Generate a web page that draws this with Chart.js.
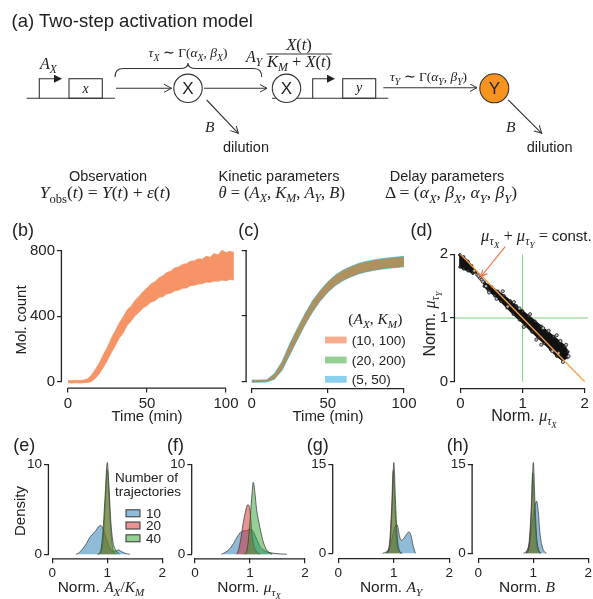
<!DOCTYPE html>
<html>
<head>
<meta charset="utf-8">
<script src="https://cdn.jsdelivr.net/npm/chart.js@4.4.1/dist/chart.umd.min.js"></script>
<style>
  html, body { margin: 0; padding: 0; background: #fff; overflow: hidden; }
  body { width: 593px; height: 599px; position: relative; font-family: "Liberation Sans", Arial, sans-serif; }
  canvas { position: absolute; }
  #overlay { position: absolute; left: 0; top: 0; z-index: 2; pointer-events: none; }
</style>
</head>
<body>
<svg id="overlay" width="593" height="599"></svg>
<script>
// ---- data ----
// (b) envelope of the 100 simulated trajectories, (A_X, K_M) = (10, 100)
const tB = [0, 2.5, 5, 7.5, 10, 12.5, 15, 17.5, 20, 22.5, 25, 27.5, 30, 32.5, 35, 37.5, 40, 42.5, 45, 47.5, 50,
  52.5, 55, 57.5, 60, 62.5, 65, 67.5, 70, 72.5, 75, 77.5, 80, 82.5, 85, 87.5, 90, 92.5, 95, 97.5, 100, 102.5, 105];
const bLower = [-6, -8, -7, -8, -6, -5, 2, 22, 52, 90, 132, 180, 222, 268, 300, 345, 372, 405, 425, 452, 466,
  488, 495, 515, 520, 538, 542, 556, 560, 572, 574, 588, 590, 598, 600, 610, 608, 616, 615, 622, 618, 626, 622];
const bUpper = [7, 6, 8, 7, 10, 18, 42, 78, 118, 168, 212, 268, 312, 360, 398, 440, 462, 498, 522, 552, 572,
  598, 612, 635, 648, 668, 676, 696, 702, 718, 722, 738, 740, 752, 750, 768, 762, 785, 775, 805, 790, 798, 792];

// (c) envelopes for the three parameter pairs
const tC = [0, 5, 10, 15, 20, 25, 30, 35, 40, 45, 50, 55, 60, 65, 70, 75, 80, 85, 90, 95, 100];
const cOrangeLow = [-6, -6, -4, 15, 72, 165, 258, 348, 428, 495, 548, 590, 620, 642, 660, 673, 682, 690, 695, 700, 704];
const cOrangeHigh = [6, 6, 8, 45, 118, 225, 322, 412, 492, 555, 608, 650, 680, 702, 720, 733, 742, 750, 755, 760, 765];
const cGreenLow = [-6, -5, -4, 13, 70, 162, 256, 346, 426, 494, 547, 589, 619, 641, 659, 672, 681, 689, 694, 699, 703];
const cGreenHigh = [6, 6, 8, 47, 120, 228, 324, 414, 494, 556, 609, 651, 681, 703, 721, 734, 743, 751, 756, 761, 766];
const cBlueLow = [-7, -6, -5, 12, 68, 160, 254, 345, 425, 492, 546, 588, 618, 640, 658, 671, 680, 688, 694, 699, 703];
const cBlueHigh = [7, 7, 9, 48, 122, 230, 326, 416, 496, 558, 611, 653, 683, 705, 723, 736, 745, 753, 758, 763, 768];
const cLegend = ["(10, 100)", "(20, 200)", "(5, 50)"];

// (d) posterior samples: outline of the dense cloud + sparse points
const dBlob = [[-0.01, 1.99], [0.05, 1.96], [0.12, 1.89], [0.18, 1.82], [0.24, 1.72], [0.2, 1.7], [0.12, 1.74],
  [0.05, 1.77], [-0.01, 1.8], [-0.01, 1.99]];
const dCloud = [[0.38, 1.56], [0.5, 1.49], [0.6, 1.42], [0.7, 1.35], [0.8, 1.27], [0.9, 1.19], [1.0, 1.11],
  [1.1, 1.03], [1.2, 0.95], [1.3, 0.87], [1.4, 0.79], [1.5, 0.71], [1.6, 0.63], [1.68, 0.56], [1.73, 0.47],
  [1.72, 0.38], [1.65, 0.33], [1.55, 0.4], [1.45, 0.5], [1.35, 0.6], [1.25, 0.69], [1.15, 0.78], [1.05, 0.88],
  [0.95, 0.97], [0.85, 1.06], [0.75, 1.16], [0.65, 1.26], [0.55, 1.35], [0.45, 1.43], [0.38, 1.5], [0.38, 1.56]];
const dSparse = [[0.27, 1.68], [0.31, 1.63], [0.34, 1.6], [0.29, 1.66], [0.22, 1.74], [0.36, 1.57], [0.41, 1.5],
  [0.46, 1.4], [0.58, 1.3], [0.68, 1.42], [0.86, 1.25], [1.02, 0.86], [1.12, 1.06], [1.22, 0.66], [1.33, 0.84],
  [1.42, 0.8], [1.55, 0.73], [1.61, 0.64], [1.7, 0.58], [1.65, 0.31], [1.58, 0.45], [1.48, 0.48], [0.95, 1.15],
  [0.76, 1.18], [1.3, 0.58], [1.74, 0.4]];
const dDiag = [[0, 2], [2, 0]];
const dGuideV = [[1, 0], [1, 2]];
const dGuideH = [[-0.1, 1], [2.05, 1]];
const dArrowFrom = [0.72, 2.12];
const dArrowTo = [0.33, 1.65];

// (e)-(h) posterior densities for 10 / 20 / 40 trajectories
const eBlue = [[0.43, 0], [0.47, 0.1], [0.56, 0.67], [0.62, 1.2], [0.69, 1.96], [0.75, 2.33], [0.8, 2.7], [0.84, 3.07],
  [0.88, 3.2], [0.92, 2.9], [0.96, 2.2], [1.0, 1.4], [1.05, 0.7], [1.1, 0.35], [1.15, 0.35], [1.2, 0.48],
  [1.26, 0.3], [1.33, 0.1], [1.41, 0]];
const eRed = [[0.85, 0], [0.9, 0.6], [0.94, 3], [0.97, 6.5], [1.0, 9.4], [1.03, 6.8], [1.06, 3], [1.1, 0.6], [1.15, 0]];
const eGreen = [[0.82, 0], [0.88, 0.4], [0.92, 2.5], [0.96, 6.5], [1.0, 10.2], [1.03, 7.5], [1.06, 4.0], [1.1, 1.5],
  [1.15, 0.5], [1.22, 0]];
const fBlue = [[0.48, 0], [0.56, 0.25], [0.64, 0.67], [0.7, 1.2], [0.76, 1.85], [0.82, 2.4], [0.87, 2.6], [0.93, 2.6],
  [1.0, 2.8], [1.06, 2.5], [1.12, 1.7], [1.18, 0.9], [1.24, 0.5], [1.32, 0.25], [1.45, 0.1], [1.67, 0]];
const fRed = [[0.76, 0], [0.8, 0.7], [0.84, 2.0], [0.88, 3.6], [0.92, 4.8], [0.96, 5.5], [0.99, 5.3], [1.02, 3.5],
  [1.05, 1.6], [1.1, 0.5], [1.18, 0]];
const fGreen = [[0.9, 0], [0.95, 0.6], [1.0, 3.6], [1.03, 6.2], [1.06, 8.0], [1.09, 6.8], [1.12, 5.0], [1.16, 3.6],
  [1.2, 2.4], [1.24, 1.4], [1.3, 0.5], [1.4, 0]];
const gBlue = [[0.8, 0], [0.86, 0.2], [0.92, 0.8], [0.97, 2.5], [1.02, 4.5], [1.06, 4.8], [1.1, 3.0], [1.13, 2.2],
  [1.18, 2.5], [1.23, 3.2], [1.27, 3.6], [1.31, 3.0], [1.35, 1.2], [1.39, 0]];
const gRed = [[0.86, 0], [0.92, 1.5], [0.96, 7.5], [0.99, 14.0], [1.02, 8], [1.05, 2.5], [1.1, 0.3], [1.14, 0]];
const gGreen = [[0.88, 0], [0.93, 1.5], [0.97, 8], [1.0, 15.3], [1.03, 9], [1.06, 3], [1.1, 0.5], [1.15, 0]];
const hBlue = [[0.82, 0], [0.88, 0.4], [0.93, 1.8], [0.98, 5], [1.02, 7.5], [1.06, 8.8], [1.09, 7], [1.12, 3.5],
  [1.16, 1.2], [1.2, 0.3], [1.24, 0]];
const hRed = [[0.87, 0], [0.92, 1.5], [0.96, 7], [0.99, 13.5], [1.02, 7.5], [1.05, 2.5], [1.1, 0.3], [1.13, 0]];
const hGreen = [[0.88, 0], [0.93, 1.5], [0.97, 8], [1.0, 15.3], [1.03, 8.5], [1.06, 3], [1.1, 0.5], [1.14, 0]];
const trajLegend = ["10", "20", "40"];

// tick labels
const timeTicks = [0, 50, 100];
const countTicks = [0, 400, 800];
const normTicks = [0, 1, 2];
const dens10Ticks = [0, 10];
const dens15Ticks = [0, 15];

// ---- styling / layout ----
const SANS = '"Liberation Sans", Arial, sans-serif';
const SERIF = '"Liberation Serif", "Times New Roman", serif';
const INK = "#222";
const ORANGE_B = "rgb(246,148,104)";
const C_COLORS = ["rgba(240,110,60,0.55)", "rgba(60,170,60,0.55)", "rgba(40,170,220,0.55)"];
const K_COLORS = ["rgba(31,119,180,0.5)", "rgba(214,39,40,0.5)", "rgba(44,160,44,0.5)"];
const K_EDGE = "rgba(60,60,60,0.75)";

// value -> pixel anchors [v0, p0, v1, p1] and plot area in page pixels
const panels = {
  b: { x: [0, 68, 100, 226], y: [0, 381.7, 800, 251], area: { l: 62, r: 236, t: 244, b: 387.5 }, font: 15 },
  c: { x: [0, 251.7, 100, 404], y: [0, 381.2, 800, 251], area: { l: 246.7, r: 408, t: 244, b: 388 }, font: 15 },
  d: { x: [0, 460.7, 2, 588.3], y: [0, 381.7, 2, 254.3], area: { l: 455, r: 592, t: 244, b: 388 }, font: 15 },
  e: { x: [0, 52.3, 2, 162.3], y: [0, 554.3, 10, 464.3], area: { l: 49, r: 166, t: 456, b: 558.3 }, font: 13.5 },
  f: { x: [0, 195, 2, 305], y: [0, 554.3, 10, 464.3], area: { l: 192.3, r: 309, t: 456, b: 558.3 }, font: 13.5 },
  g: { x: [0, 338.3, 2, 449.3], y: [0, 553.3, 15, 464.3], area: { l: 333.3, r: 452, t: 456, b: 558 }, font: 13.5 },
  h: { x: [0, 478.3, 2, 588.3], y: [0, 553.3, 15, 464.3], area: { l: 472.7, r: 592, t: 456, b: 558 }, font: 13.5 }
};

function range(anchor, e0, e1) {
  const [v0, p0, v1, p1] = anchor;
  const k = (p1 - p0) / (v1 - v0);
  return { min: v0 + (e0 - p0) / k, max: v0 + (e1 - p0) / k };
}

function pts(xs, ys) {
  return xs.map((x, i) => ({ x: x, y: ys[i] }));
}

function pairs(arr) {
  return arr.map(([x, y]) => ({ x: x, y: y }));
}

// spines drawn only between the first and last tick (offset axes)
const spinePlugin = {
  id: "spines",
  afterDraw(chart) {
    const { ctx, chartArea, scales } = chart;
    const xt = scales.x.ticks, yt = scales.y.ticks;
    ctx.save();
    ctx.strokeStyle = INK;
    ctx.lineWidth = 1.3;
    ctx.beginPath();
    ctx.moveTo(scales.x.getPixelForValue(xt[0].value), chartArea.bottom + 0.6);
    ctx.lineTo(scales.x.getPixelForValue(xt[xt.length - 1].value), chartArea.bottom + 0.6);
    ctx.moveTo(chartArea.left - 0.6, scales.y.getPixelForValue(yt[0].value));
    ctx.lineTo(chartArea.left - 0.6, scales.y.getPixelForValue(yt[yt.length - 1].value));
    ctx.stroke();
    ctx.restore();
  }
};

const arrowPlugin = {
  id: "annotArrow",
  afterDatasetsDraw(chart) {
    if (chart.canvas.id !== "chart-d") return;
    const { ctx, scales } = chart;
    const x0 = scales.x.getPixelForValue(dArrowFrom[0]), y0 = scales.y.getPixelForValue(dArrowFrom[1]);
    const x1 = scales.x.getPixelForValue(dArrowTo[0]), y1 = scales.y.getPixelForValue(dArrowTo[1]);
    const a = Math.atan2(y1 - y0, x1 - x0);
    ctx.save();
    ctx.strokeStyle = "rgb(240,120,80)";
    ctx.lineWidth = 1.2;
    ctx.beginPath();
    ctx.moveTo(x0, y0);
    ctx.lineTo(x1, y1);
    ctx.moveTo(x1 - 7 * Math.cos(a - 0.45), y1 - 7 * Math.sin(a - 0.45));
    ctx.lineTo(x1, y1);
    ctx.lineTo(x1 - 7 * Math.cos(a + 0.45), y1 - 7 * Math.sin(a + 0.45));
    ctx.stroke();
    ctx.restore();
  }
};

function axis(anchor, e0, e1, ticks, size, labels, fitFn) {
  const r = range(anchor, e0, e1);
  return {
    type: "linear",
    min: r.min,
    max: r.max,
    afterBuildTicks: (s) => { s.ticks = ticks.map((v) => ({ value: v })); },
    afterFit: fitFn,
    border: { display: false },
    grid: { display: true, drawOnChartArea: false, drawTicks: true, tickLength: 5, color: INK, lineWidth: 1.2 },
    ticks: {
      color: INK, padding: 2, maxRotation: 0, autoSkip: false,
      font: { family: SANS, size: size },
      callback: (v) => (labels ? String(v) : "")
    }
  };
}

function makeChart(key, datasets, xTicks, yTicks, yLabels = true) {
  const p = panels[key], a = p.area;
  const cx = Math.max(0, Math.round(a.l - 45));
  const cy = Math.round(a.t - 6);
  const cr = Math.min(593, Math.round(a.r + 16));
  const cb = Math.round(a.b + 28);
  const canvas = document.createElement("canvas");
  canvas.id = "chart-" + key;
  canvas.width = cr - cx;
  canvas.height = cb - cy;
  canvas.style.left = cx + "px";
  canvas.style.top = cy + "px";
  document.body.appendChild(canvas);

  new Chart(canvas, {
    type: "line",
    data: { datasets: datasets },
    options: {
      responsive: false,
      animation: false,
      devicePixelRatio: 1,
      layout: { padding: { left: 0, top: a.t - cy, right: cr - a.r, bottom: 0 } },
      plugins: { legend: { display: false }, tooltip: { enabled: false } },
      elements: { point: { radius: 0 }, line: { borderWidth: 1 } },
      scales: {
        x: axis(p.x, a.l, a.r, xTicks, p.font, true, (s) => {
          s.height = cb - a.b; s.paddingLeft = 0; s.paddingRight = 0;
        }),
        y: axis(p.y, a.b, a.t, yTicks, p.font, yLabels, (s) => {
          s.width = a.l - cx; s.paddingTop = 0; s.paddingBottom = 0;
        })
      }
    },
    plugins: [spinePlugin, arrowPlugin]
  });
}

function band(xs, low, high, color, order, edge) {
  return [
    { data: pts(xs, low), borderColor: edge, borderWidth: edge ? 0.8 : 0, fill: false, order: order, tension: 0 },
    { data: pts(xs, high), borderColor: edge, borderWidth: edge ? 0.8 : 0, backgroundColor: color, fill: "-1",
      order: order, tension: 0 }
  ];
}

function density(arr, color, order) {
  return {
    data: pairs(arr), fill: "origin", backgroundColor: color, borderColor: K_EDGE, borderWidth: 1,
    cubicInterpolationMode: "monotone", order: order
  };
}

// (b)
makeChart("b", band(tB, bLower, bUpper, ORANGE_B, 1, ORANGE_B), timeTicks, countTicks);

// (c)
makeChart("c", [
  ...band(tC, cBlueLow, cBlueHigh, C_COLORS[2], 3, "rgba(40,170,220,0.7)"),
  ...band(tC, cGreenLow, cGreenHigh, C_COLORS[1], 2, null),
  ...band(tC, cOrangeLow, cOrangeHigh, C_COLORS[0], 1, null)
], timeTicks, countTicks, false);

// (d)
const cloudPoints = { pointRadius: 1.3, pointBackgroundColor: "#444", pointBorderColor: "#111", pointBorderWidth: 0.6 };
makeChart("d", [
  { data: pairs(dGuideV), borderColor: "rgb(120,205,120)", borderWidth: 1, order: 6 },
  { data: pairs(dGuideH), borderColor: "rgb(120,205,120)", borderWidth: 1, order: 6 },
  { data: pairs(dBlob), borderColor: "#111", borderWidth: 1.5, backgroundColor: "#111", fill: "shape", order: 5,
    ...cloudPoints },
  { data: pairs(dCloud), borderColor: "#111", borderWidth: 1.5, backgroundColor: "#111", fill: "shape", order: 4,
    ...cloudPoints },
  { type: "scatter", data: pairs(dSparse), pointRadius: 1.6, pointBackgroundColor: "#bbb", pointBorderColor: "#111",
    pointBorderWidth: 0.7, order: 3 },
  { data: pairs(dDiag), borderColor: "rgb(248,160,70)", borderWidth: 1.3, order: 1 }
], normTicks, normTicks);

// (e)-(h)
makeChart("e", [density(eBlue, K_COLORS[0], 3), density(eRed, K_COLORS[1], 2), density(eGreen, K_COLORS[2], 1)],
  normTicks, dens10Ticks);
makeChart("f", [density(fBlue, K_COLORS[0], 3), density(fRed, K_COLORS[1], 2), density(fGreen, K_COLORS[2], 1)],
  normTicks, dens10Ticks);
makeChart("g", [density(gBlue, K_COLORS[0], 3), density(gRed, K_COLORS[1], 2), density(gGreen, K_COLORS[2], 1)],
  normTicks, dens15Ticks);
makeChart("h", [density(hBlue, K_COLORS[0], 3), density(hRed, K_COLORS[1], 2), density(hGreen, K_COLORS[2], 1)],
  normTicks, dens15Ticks);

// ---- text overlay: diagram, titles, legends ----
// mini math markup: _{..} italic subscript, _[..] upright subscript, §..§ sans upright
function mathSvg(s, fs) {
  let out = "", shift = 0;
  const sizes = [1, 0.72, 0.56], shifts = [0, 0.26, 0.44];
  function emit(t, italic, lvl, fam) {
    const target = shifts[lvl] * fs, dy = target - shift;
    shift = target;
    out += `<tspan dy="${dy.toFixed(2)}" font-size="${(sizes[lvl] * fs).toFixed(2)}" font-style="${italic ? "italic" : "normal"}"` +
      (fam ? ` font-family='${fam}'` : "") + `>${t}</tspan>`;
  }
  function parse(str, lvl, upright) {
    let i = 0;
    while (i < str.length) {
      const c = str[i];
      if (c === "_") {
        const open = str[i + 1], close = open === "{" ? "}" : "]";
        let depth = 0, j = i + 1;
        for (; j < str.length; j++) {
          if (str[j] === open) depth++;
          else if (str[j] === close && --depth === 0) break;
        }
        parse(str.slice(i + 2, j), lvl + 1, open === "[");
        i = j + 1;
      } else if (c === "§") {
        const j = str.indexOf("§", i + 1);
        emit(str.slice(i + 1, j), false, lvl, SANS);
        i = j + 1;
      } else {
        let j = i;
        const it = !upright && /[A-Za-z\u03b1-\u03c9]/.test(c);
        while (j < str.length && str[j] !== "_" && str[j] !== "§" &&
          (!upright && /[A-Za-z\u03b1-\u03c9]/.test(str[j])) === it) j++;
        emit(str.slice(i, j), it, lvl, null);
        i = j;
      }
    }
  }
  parse(s, 0, false);
  return out;
}

function txt(x, y, s, size, anchor = "start", extra = "") {
  return `<text x="${x}" y="${y}" font-size="${size}" text-anchor="${anchor}" font-family='${SANS}' fill="${INK}" ${extra}>${s}</text>`;
}
function mtxt(x, y, s, size, anchor = "middle", extra = "") {
  return `<text x="${x}" y="${y}" font-size="${size}" text-anchor="${anchor}" font-family='${SERIF}' fill="${INK}" style="white-space:pre" ${extra}>${mathSvg(s, size)}</text>`;
}
function rot(x, y) {
  return `transform="rotate(-90 ${x} ${y})"`;
}

let svg = `<defs>
  <marker id="ah" markerWidth="10" markerHeight="10" refX="7.5" refY="4" orient="auto" markerUnits="userSpaceOnUse">
    <path d="M0,0 L7.5,4 L0,8" fill="none" stroke="#333" stroke-width="1"/></marker>
  <marker id="pa" markerWidth="10" markerHeight="10" refX="1" refY="4" orient="auto" markerUnits="userSpaceOnUse">
    <path d="M0,0 L8,4 L0,8 Z" fill="#222"/></marker>
</defs>`;

// (a) diagram
svg += txt(11.5, 27, "(a) Two-step activation model", 18.5);
svg += `<g stroke="#333" stroke-width="1.1" fill="none">
  <line x1="26.7" y1="98.3" x2="115" y2="98.3"/>
  <path d="M39.3,98.3 V78.7 H55" marker-end="url(#pa)"/>
  <rect x="69" y="78.7" width="33.3" height="19.6"/>
  <path d="M115,77 Q115,68.5 123,68.5 L180,68.5 Q188,68.5 188,63 Q188,68.5 196,68.5 L253.7,68.5 Q261.7,68.5 261.7,77"/>
  <line x1="116" y1="88.3" x2="171.5" y2="88.3" marker-end="url(#ah)"/>
  <line x1="204" y1="88.3" x2="267" y2="88.3" marker-end="url(#ah)"/>
  <line x1="206.7" y1="100" x2="238.3" y2="133.3" marker-end="url(#ah)"/>
  <line x1="272" y1="98.3" x2="388.3" y2="98.3"/>
  <path d="M312.7,98.3 V78.7 H328" marker-end="url(#pa)"/>
  <rect x="342.7" y="78.7" width="33" height="19.6"/>
  <line x1="383.3" y1="87.7" x2="477" y2="87.7" marker-end="url(#ah)"/>
  <line x1="508.3" y1="100" x2="541.7" y2="133.3" marker-end="url(#ah)"/>
  <line x1="266.7" y1="54" x2="331.7" y2="54"/>
  <circle cx="188" cy="88.3" r="14.2" fill="#fff"/>
  <circle cx="286.5" cy="88.3" r="14.2" fill="#fff"/>
  <circle cx="494.3" cy="88.3" r="14.5" fill="#F7931E"/>
</g>`;
svg += mtxt(85.7, 92.5, "x", 14);
svg += mtxt(359.2, 92, "y", 14);
svg += mtxt(40, 69, "A_{X}", 16, "start");
svg += mtxt(188, 57, "τ_{X} ∼ Γ(α_{X}, β_{X})", 13.5);
svg += mtxt(428.5, 81, "τ_{Y} ∼ Γ(α_{Y}, β_{Y})", 13.5);
svg += mtxt(246, 62, "A_{Y}", 16, "start");
svg += mtxt(299, 50, "X(t)", 16.5);
svg += mtxt(299, 66.5, "K_{M} + X(t)", 16.5);
svg += txt(188, 94.3, "X", 17, "middle");
svg += txt(286.5, 94.3, "X", 17, "middle");
svg += txt(494.3, 94.3, "Y", 17, "middle");
svg += mtxt(205, 131.5, "B", 15.5, "start");
svg += mtxt(506, 131.5, "B", 15.5, "start");
svg += txt(246, 152, "dilution", 14.5, "middle");
svg += txt(549.7, 152, "dilution", 14.5, "middle");
svg += txt(108, 180.7, "Observation", 14.5, "middle");
svg += txt(279, 180.7, "Kinetic parameters", 14.5, "middle");
svg += txt(447, 180.7, "Delay parameters", 14.5, "middle");
svg += mtxt(105, 198, "Y_[obs](t) = Y(t) + ε(t)", 17.5);
svg += mtxt(281.7, 198, "θ = (A_{X}, K_{M}, A_{Y}, B)", 16.5);
svg += mtxt(451, 198, "Δ = (α_{X}, β_{X}, α_{Y}, β_{Y})", 17.5);

// panel letters
[["(b)", 12, 235.5], ["(c)", 238.3, 235.5], ["(d)", 410.5, 235.5],
 ["(e)", 13.3, 451], ["(f)", 167, 451], ["(g)", 306.7, 451], ["(h)", 446.7, 451]].forEach(([s, x, y]) => {
  svg += txt(x, y, s, 18);
});

// axis titles
svg += txt(147, 421, "Time (min)", 15, "middle");
svg += txt(328, 421, "Time (min)", 15, "middle");
svg += txt(25.5, 320, "Mol. count", 15, "middle", rot(25.5, 320));
svg += mtxt(524, 421, "§Norm. §μ_{τ_{X}}", 16);
svg += mtxt(435, 324, "§Norm. §μ_{τ_{Y}}", 16, "middle", rot(435, 324));
svg += txt(24.5, 511, "Density", 15, "middle", rot(24.5, 511));
svg += mtxt(101, 592, "§Norm. §A_{X}/K_{M}", 15.5);
svg += mtxt(249, 592, "§Norm. §μ_{τ_{X}}", 15.5);
svg += mtxt(391, 592, "§Norm. §A_{Y}", 15.5);
svg += mtxt(527, 592, "§Norm. §B", 15.5);

// (d) annotation
svg += mtxt(548, 241, "μ_{τ_{X}} + μ_{τ_{Y}} =", 16.5, "end");
svg += txt(551.7, 241, "const.", 15);

// (c) legend
const cPatch = ["rgb(247,172,140)", "rgb(148,208,148)", "rgb(137,208,236)"];
svg += mtxt(348.3, 324, "(A_{X}, K_{M})", 15.5, "start");
[340, 360, 379.3].forEach((cyy, i) => {
  svg += `<rect x="325" y="${cyy - 3.4}" width="21.7" height="6.8" fill="${cPatch[i]}"/>`;
  svg += txt(351.7, cyy + 4.8, cLegend[i], 13.5);
});

// (e) legend
svg += txt(115, 481.7, "Number of", 13.5);
svg += txt(115, 495.5, "trajectories", 13.5);
[513.3, 525.5, 538.3].forEach((cyy, i) => {
  svg += `<rect x="126" y="${cyy - 3.5}" width="14" height="7" fill="${K_COLORS[i]}" stroke="#333" stroke-width="1"/>`;
  svg += txt(146, cyy + 4.7, trajLegend[i], 13.5);
});

document.getElementById("overlay").innerHTML = svg;
</script>
</body>
</html>
